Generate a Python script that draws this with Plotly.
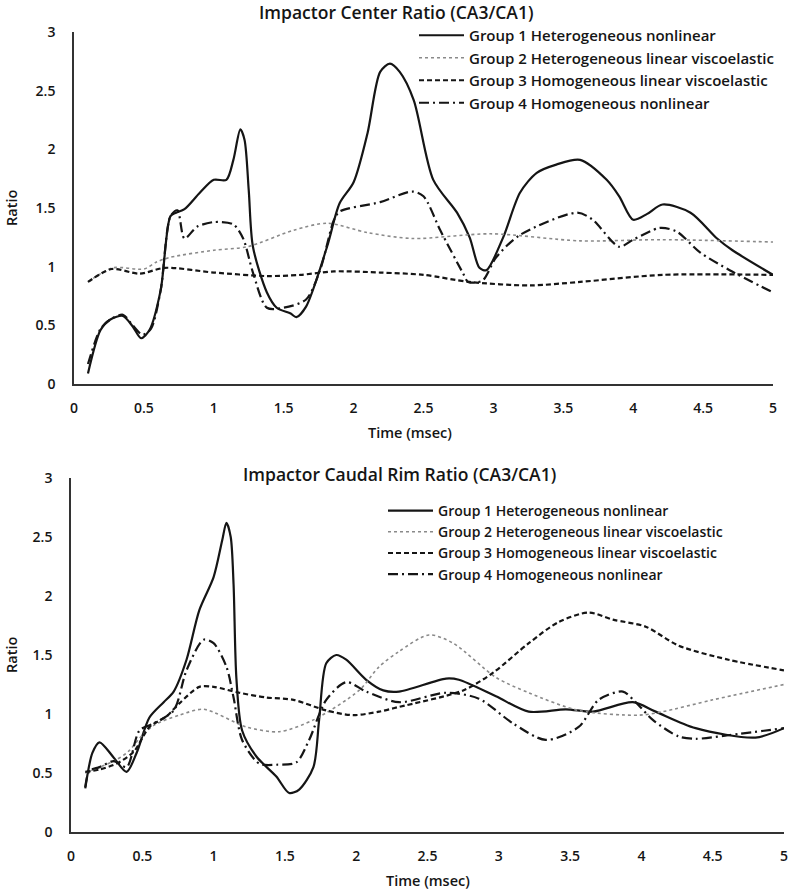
import plotly.graph_objects as go

# ---------------- DATA ----------------
names = ["Group 1 Heterogeneous nonlinear",
         "Group 2 Heterogeneous linear viscoelastic",
         "Group 3 Homogeneous linear viscoelastic",
         "Group 4 Homogeneous nonlinear"]

x_ticks = [0, 0.5, 1, 1.5, 2, 2.5, 3, 3.5, 4, 4.5, 5]
x_tick_text = ["0", "0.5", "1", "1.5", "2", "2.5", "3", "3.5", "4", "4.5", "5"]
y_ticks = [0, 0.5, 1, 1.5, 2, 2.5, 3]
y_tick_text = ["0", "0.5", "1", "1.5", "2", "2.5", "3"]

# Top chart: Impactor Center Ratio
c_g1_x = [0.1, 0.19, 0.26, 0.35, 0.42, 0.48, 0.54, 0.62, 0.69, 0.73, 0.79, 0.9, 1.0, 1.09, 1.14, 1.19,
          1.22, 1.25, 1.28, 1.38, 1.45, 1.55, 1.59, 1.66, 1.81, 1.9, 2.0, 2.1, 2.19, 2.26, 2.33, 2.43,
          2.57, 2.74, 2.83, 2.9, 2.95, 3.07, 3.19, 3.31, 3.45, 3.62, 3.81, 3.9, 4.0, 4.1, 4.21, 4.41,
          4.6, 4.71, 5.0]
c_g1_y = [0.09, 0.46, 0.55, 0.58, 0.49, 0.39, 0.46, 0.80, 1.43, 1.46, 1.49, 1.63, 1.74, 1.74, 1.91, 2.17,
          2.08, 1.65, 1.17, 0.78, 0.65, 0.60, 0.57, 0.66, 1.17, 1.54, 1.72, 2.14, 2.66, 2.73, 2.66, 2.42,
          1.74, 1.46, 1.25, 0.99, 0.97, 1.25, 1.63, 1.80, 1.87, 1.91, 1.74, 1.60, 1.40, 1.45, 1.53, 1.46,
          1.24, 1.14, 0.93]

c_g2_x = [0.1, 0.28, 0.5, 0.59, 0.69, 1.0, 1.24, 1.57, 1.81, 2.1, 2.42, 2.98, 3.62, 4.2, 5.0]
c_g2_y = [0.87, 0.99, 0.98, 1.04, 1.08, 1.14, 1.17, 1.31, 1.37, 1.29, 1.24, 1.28, 1.22, 1.23, 1.21]

c_g3_x = [0.1, 0.27, 0.47, 0.65, 1.0, 1.38, 1.62, 1.86, 2.19, 2.5, 2.83, 3.26, 3.62, 4.21, 5.0]
c_g3_y = [0.87, 0.98, 0.94, 0.99, 0.95, 0.92, 0.93, 0.96, 0.95, 0.93, 0.87, 0.84, 0.87, 0.93, 0.93]

c_g4_x = [0.1, 0.19, 0.26, 0.35, 0.42, 0.49, 0.55, 0.62, 0.69, 0.74, 0.79, 0.88, 1.0, 1.14, 1.21, 1.28,
          1.38, 1.5, 1.66, 1.76, 1.86, 1.9, 2.19, 2.42, 2.5, 2.62, 2.78, 2.82, 2.92, 3.02, 3.19, 3.6,
          3.71, 3.9, 4.0, 4.19, 4.31, 4.48, 4.69, 5.0]
c_g4_y = [0.17, 0.47, 0.55, 0.59, 0.50, 0.42, 0.47, 0.80, 1.43, 1.48, 1.24, 1.34, 1.38, 1.36, 1.24, 0.95,
          0.65, 0.65, 0.72, 0.97, 1.40, 1.47, 1.55, 1.64, 1.60, 1.31, 0.95, 0.87, 0.88, 1.08, 1.27, 1.46,
          1.40, 1.17, 1.23, 1.33, 1.30, 1.12, 0.97, 0.78]

# Bottom chart: Impactor Caudal Rim Ratio
r_g1_x = [0.1, 0.15, 0.2, 0.3, 0.39, 0.46, 0.55, 0.65, 0.72, 0.81, 0.9, 1.0, 1.06, 1.09, 1.12, 1.14,
          1.16, 1.2, 1.3, 1.44, 1.53, 1.6, 1.7, 1.74, 1.79, 1.86, 1.93, 2.07, 2.19, 2.3, 2.63, 2.72,
          2.98, 3.21, 3.47, 3.66, 3.94, 4.1, 4.38, 4.8, 5.0]
r_g1_y = [0.37, 0.67, 0.76, 0.63, 0.51, 0.67, 0.97, 1.10, 1.19, 1.46, 1.88, 2.16, 2.47, 2.62, 2.5, 2.1,
          1.3, 0.86, 0.64, 0.47, 0.33, 0.36, 0.55, 0.95, 1.43, 1.50, 1.46, 1.29, 1.20, 1.19, 1.30, 1.29,
          1.15, 1.02, 1.04, 1.02, 1.10, 1.02, 0.88, 0.80, 0.88]

r_g2_x = [0.1, 0.2, 0.3, 0.4, 0.5, 0.59, 0.76, 0.93, 1.23, 1.46, 1.7, 2.02, 2.16, 2.3, 2.51, 2.68,
          2.98, 3.21, 3.56, 3.98, 4.15, 4.5, 5.0]
r_g2_y = [0.5, 0.55, 0.6, 0.68, 0.82, 0.91, 0.99, 1.04, 0.89, 0.85, 0.95, 1.2, 1.40, 1.53, 1.67, 1.60,
          1.31, 1.18, 1.03, 0.99, 1.02, 1.12, 1.25]

r_g3_x = [0.1, 0.2, 0.32, 0.44, 0.55, 0.67, 0.76, 0.9, 1.0, 1.18, 1.37, 1.56, 1.79, 1.98, 2.16, 2.3,
          2.75, 2.96, 3.21, 3.42, 3.63, 3.8, 4.03, 4.26, 4.61, 5.0]
r_g3_y = [0.51, 0.53, 0.58, 0.68, 0.89, 0.98, 1.09, 1.23, 1.23, 1.18, 1.14, 1.12, 1.03, 0.99, 1.02, 1.06,
          1.20, 1.35, 1.60, 1.78, 1.86, 1.80, 1.74, 1.58, 1.46, 1.37]

r_g4_x = [0.1, 0.13, 0.2, 0.3, 0.39, 0.48, 0.58, 0.72, 0.81, 0.93, 1.0, 1.09, 1.14, 1.2, 1.32, 1.44,
          1.58, 1.67, 1.79, 1.93, 2.07, 2.3, 2.63, 2.86, 3.1, 3.33, 3.56, 3.7, 3.87, 3.96, 4.08, 4.26,
          4.38, 4.61, 5.0]
r_g4_y = [0.38, 0.52, 0.55, 0.6, 0.55, 0.86, 0.92, 1.03, 1.37, 1.63, 1.60, 1.40, 1.14, 0.78, 0.58, 0.57,
          0.59, 0.78, 1.12, 1.27, 1.19, 1.10, 1.18, 1.13, 0.92, 0.78, 0.89, 1.12, 1.19, 1.10, 0.95, 0.81,
          0.79, 0.82, 0.88]

# ---------------- STYLE ----------------
FONT = "Open Sans"
INK = "#151515"
styles = [
    dict(color=INK, width=2.2, dash="solid"),
    dict(color="#8a8a8a", width=1.6, dash="dot"),
    dict(color=INK, width=2.2, dash="5px,3px"),
    dict(color=INK, width=2.2, dash="10px,4px,2px,4px"),
]

fig = go.Figure()

top = [(c_g1_x, c_g1_y), (c_g2_x, c_g2_y), (c_g3_x, c_g3_y), (c_g4_x, c_g4_y)]
bot = [(r_g1_x, r_g1_y), (r_g2_x, r_g2_y), (r_g3_x, r_g3_y), (r_g4_x, r_g4_y)]

for i, (xs, ys) in enumerate(top):
    fig.add_trace(go.Scatter(x=xs, y=ys, mode="lines", name=names[i], line=styles[i],
                             line_shape="spline", line_smoothing=0.8,
                             xaxis="x", yaxis="y", legend="legend"))
for i, (xs, ys) in enumerate(bot):
    fig.add_trace(go.Scatter(x=xs, y=ys, mode="lines", name=names[i], line=styles[i],
                             line_shape="spline", line_smoothing=0.8,
                             xaxis="x2", yaxis="y2", legend="legend2"))

axis_common = dict(showline=True, linecolor="#333333", linewidth=1.5, showgrid=False, zeroline=False,
                   ticks="", automargin=False,
                   tickfont=dict(family=FONT, size=14, color=INK, weight=600))

label_font = dict(family=FONT, size=14.5, color=INK, weight=600)
title_font = dict(family=FONT, size=17.5, color=INK, weight=600)

fig.update_layout(
    width=792, height=891,
    margin=dict(l=0, r=0, t=0, b=0),
    paper_bgcolor="white", plot_bgcolor="white",
    showlegend=True,
    xaxis=dict(domain=[74/792, 773/792], range=[0, 5], tickvals=x_ticks, ticktext=x_tick_text,
               anchor="y", ticklabelstandoff=10, **axis_common),
    yaxis=dict(domain=[1-384/891, 1-32/891], range=[0, 3], tickvals=y_ticks, ticktext=y_tick_text,
               anchor="x", ticklabelstandoff=14, **axis_common),
    xaxis2=dict(domain=[71/792, 784/792], range=[0, 5], tickvals=x_ticks, ticktext=x_tick_text,
                anchor="y2", ticklabelstandoff=10, **axis_common),
    yaxis2=dict(domain=[1-832/891, 1-478/891], range=[0, 3], tickvals=y_ticks, ticktext=y_tick_text,
                anchor="x2", ticklabelstandoff=14, **axis_common),
    legend=dict(x=414/792, y=1-19/891, xanchor="left", yanchor="top", bgcolor="rgba(0,0,0,0)",
                font=dict(family=FONT, size=15, color=INK, weight=600), tracegroupgap=0, itemwidth=45),
    legend2=dict(x=383/792, y=1-495/891, xanchor="left", yanchor="top", bgcolor="rgba(0,0,0,0)",
                 font=dict(family=FONT, size=14, color=INK, weight=600), tracegroupgap=0, itemwidth=45),
    annotations=[
        dict(text="Impactor Center Ratio (CA3/CA1)", x=396/792, y=1-12/891, xref="paper", yref="paper",
             yanchor="middle", showarrow=False, font=title_font),
        dict(text="Impactor Caudal Rim Ratio (CA3/CA1)", x=399/792, y=1-474/891, xref="paper", yref="paper",
             yanchor="middle", showarrow=False, font=title_font),
        dict(text="Time (msec)", x=410/792, y=1-432/891, xref="paper", yref="paper",
             yanchor="middle", showarrow=False, font=label_font),
        dict(text="Time (msec)", x=428/792, y=1-880/891, xref="paper", yref="paper",
             yanchor="middle", showarrow=False, font=label_font),
        dict(text="Ratio", x=11/792, y=1-208/891, xref="paper", yref="paper", textangle=-90,
             xanchor="center", yanchor="middle", showarrow=False, font=label_font),
        dict(text="Ratio", x=11/792, y=1-655/891, xref="paper", yref="paper", textangle=-90,
             xanchor="center", yanchor="middle", showarrow=False, font=label_font),
    ],
)

fig.write_html("out.html", config={"displayModeBar": False},
               post_script="document.body.style.margin='0';")
